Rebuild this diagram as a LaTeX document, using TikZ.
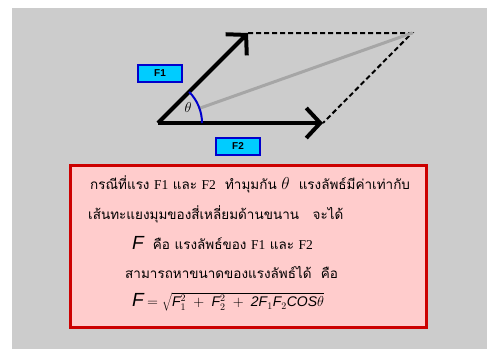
\documentclass[tikz,border=0pt]{standalone}
\usepackage{fontspec}
\usetikzlibrary{arrows.meta,calc}
\newfontfamily\thaifont[Script=Thai]{Loma}
\newfontfamily\latf{Liberation Serif}
\newfontfamily\arialf{Liberation Sans}
\newcommand{\FI}{\mbox{\arialf\itshape F}}
\definecolor{bggrey}{HTML}{CCCCCC}
\definecolor{boxred}{HTML}{CC0000}
\definecolor{boxpink}{HTML}{FFCCCC}
\definecolor{lblcyan}{HTML}{00CCFF}
\definecolor{lblblue}{HTML}{0000CC}
\tikzset{
  vec/.style={line width=4pt, -{Straight Barb[length=14pt,width=30pt,line width=4pt]}},
  lbl/.style={draw=lblblue, line width=2pt, fill=lblcyan, minimum width=44pt, minimum height=17pt, inner sep=0pt, font=\arialf\bfseries\fontsize{10}{12}\selectfont},
  dashln/.style={line width=2pt, dash pattern=on 5pt off 3pt},
  txt/.style={anchor=west, inner sep=0pt, text height=11pt, text depth=3pt, font=\thaifont\fontsize{13.5}{15}\selectfont}
}
\begin{document}
\begin{tikzpicture}[x=1pt,y=-1pt]
\useasboundingbox (0,0) rectangle (487,349);
\fill[white] (0,0) rectangle (487,349);
\fill[bggrey] (12,8) rectangle (487,349);
% points
\coordinate (O) at (158,123);
\coordinate (A) at (248,33);
\coordinate (B) at (323,123);
\coordinate (R) at (412,33);
\coordinate (Rs) at ($(O)!44pt!(R)$);
% dashed
\draw[dashln] (A) -- (R) -- (B);
% resultant
\draw[line width=3pt, color=black!35, line cap=round] (Rs) -- (R);
% vectors
\draw[vec] (O) -- (A);
\draw[vec] (O) -- (B);
% angle arc
\draw[lblblue, line width=2pt] (202,123) arc[start angle=0, end angle=-45, radius=44];
\node[inner sep=0pt] (th) at (188,107) {\fontsize{15}{15}\selectfont$\theta$};
% labels
\node[lbl] (f1) at (160,73.5) {F1};
\node[lbl] (f2) at (238,146.5) {F2};
% text box
\draw[boxred, line width=3pt, fill=boxpink] (70,165) rectangle (426,327);
\node[txt] (l1) at (90,185) {กรณีที่แรง {\latf F1} และ {\latf F2}\ \ ทำมุมกัน {\fontsize{17}{17}\selectfont$\theta$}\ \ แรงลัพธ์มีค่าเท่ากับ};
\node[txt] (l2) at (88,215) {เส้นทะแยงมุมของสี่เหลี่ยมด้านขนาน\ \ \ จะได้};
\node[txt] (l3) at (132,245) {{\arialf\itshape\fontsize{19}{19}\selectfont F}\ \ คือ แรงลัพธ์ของ {\latf F1} และ {\latf F2}};
\node[txt] (l4) at (125,274) {สามารถหาขนาดของแรงลัพธ์ได้\ \ คือ};
\node[anchor=west, inner sep=0pt] (l5) at (132,302) {{\arialf\itshape\fontsize{19}{19}\selectfont F}\ {\fontsize{14}{15}\selectfont$=\sqrt{\FI_1^2\;+\;\FI_2^2\;+\;\mbox{\arialf\itshape 2}\FI_1\FI_2\mbox{\arialf\itshape COS}\theta}$}};
\end{tikzpicture}
\end{document}
